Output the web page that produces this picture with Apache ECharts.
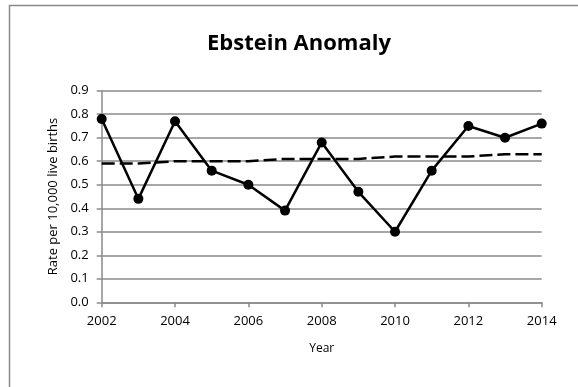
<!DOCTYPE html>
<html>
<head>
<meta charset="utf-8">
<script src="https://cdn.jsdelivr.net/npm/echarts@6/dist/echarts.min.js"></script>
<style>
  html, body { margin: 0; padding: 0; background: #fff; }
  #chart { width: 578px; height: 387px; }
</style>
</head>
<body>
<div id="chart"></div>
<script>
// Ebstein anomaly rate per 10,000 live births, by year
const years = [2002, 2003, 2004, 2005, 2006, 2007, 2008, 2009, 2010, 2011, 2012, 2013, 2014];
const rates = [0.78, 0.44, 0.77, 0.56, 0.50, 0.39, 0.68, 0.47, 0.30, 0.56, 0.75, 0.70, 0.76];
// Fitted trend values
const trend = [0.59, 0.59, 0.60, 0.60, 0.60, 0.61, 0.61, 0.61, 0.62, 0.62, 0.62, 0.63, 0.63];
const yTicks = [0.0, 0.1, 0.2, 0.3, 0.4, 0.5, 0.6, 0.7, 0.8, 0.9];

const FONT = '"Open Sans", "Liberation Sans", sans-serif';
const GRAY = '#8a8a8a';

const pairs = (vals) => years.map((y, i) => [y, vals[i]]);

const chart = echarts.init(document.getElementById('chart'), null, { renderer: 'canvas' });
chart.setOption({
  animation: false,
  backgroundColor: '#fff',
  graphic: [{
    type: 'rect',
    shape: { x: 9.5, y: 5.5, width: 620, height: 420 },
    style: { fill: 'none', stroke: GRAY, lineWidth: 1.5 },
    silent: true,
    z: -1
  }],
  title: {
    text: 'Ebstein Anomaly',
    left: 202,
    top: 28,
    textStyle: { fontFamily: FONT, fontWeight: 'bold', fontSize: 22, color: '#000' }
  },
  grid: { left: 101.7, right: 36.3, top: 90.7, bottom: 84.7 },
  xAxis: {
    type: 'value',
    min: 2002,
    max: 2014,
    interval: 2,
    name: 'Year',
    nameLocation: 'middle',
    nameGap: 40,
    nameTextStyle: { fontFamily: FONT, fontSize: 12, color: '#000' },
    axisLine: { lineStyle: { color: GRAY, width: 1.5 } },
    axisTick: { show: true, inside: false, length: 5, lineStyle: { color: GRAY, width: 1.5 } },
    axisLabel: { fontFamily: FONT, fontSize: 13, color: '#000', margin: 12, formatter: (v) => String(v) },
    splitLine: { show: false }
  },
  yAxis: {
    type: 'value',
    min: yTicks[0],
    max: yTicks[yTicks.length - 1],
    interval: 0.1,
    name: 'Rate per 10,000 live births',
    nameLocation: 'middle',
    nameGap: 42,
    nameTextStyle: { fontFamily: FONT, fontSize: 13, color: '#000' },
    axisLine: { show: true, lineStyle: { color: GRAY, width: 1.5 } },
    axisTick: { show: true, inside: false, length: 5, lineStyle: { color: GRAY, width: 1.5 } },
    axisLabel: { fontFamily: FONT, fontSize: 13, color: '#000', margin: 13, formatter: (v) => v.toFixed(1) },
    splitLine: { show: true, lineStyle: { color: GRAY, width: 1.5 } }
  },
  series: [
    {
      name: 'Trend',
      type: 'line',
      data: pairs(trend),
      symbol: 'none',
      lineStyle: { color: '#000', width: 2.5, type: [13, 5] },
      z: 2
    },
    {
      name: 'Rate',
      type: 'line',
      data: pairs(rates),
      symbol: 'circle',
      symbolSize: 10,
      itemStyle: { color: '#000' },
      lineStyle: { color: '#000', width: 2.5 },
      z: 3
    }
  ]
});
</script>
</body>
</html>
